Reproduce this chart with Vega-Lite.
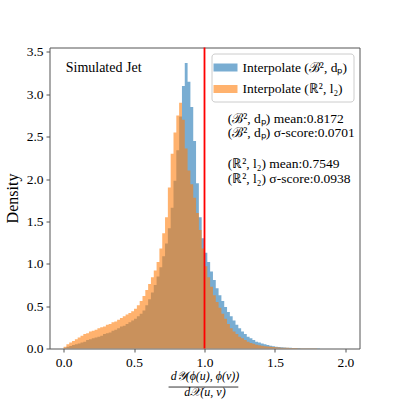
{
  "$schema": "https://vega.github.io/schema/vega-lite/v6.json",
  "width": 310,
  "height": 301,
  "autosize": {"type": "none"},
  "padding": {"left": 49.5, "top": 47.5, "right": 39.5, "bottom": 50.5},
  "config": {
    "font": "Liberation Serif",
    "view": {"stroke": "#555", "strokeWidth": 1},
    "axis": {"domain": false, "grid": false, "tickColor": "#555", "tickSize": 3.5, "labelFontSize": 13.5, "labelColor": "#000", "titleFontWeight": "normal", "titleColor": "#000", "labelFont": "Liberation Serif", "titleFont": "Liberation Serif"},
    "legend": {"fillColor": "rgba(255,255,255,0.8)", "strokeColor": "#cccccc", "cornerRadius": 3, "padding": 6, "symbolType": "M-1.5,-0.5H1.5V0.5H-1.5Z", "symbolSize": 256, "symbolOpacity": 0.6, "symbolStrokeWidth": 0, "labelFontSize": 13.5, "labelFont": "Liberation Serif", "labelColor": "#000", "labelOffset": 9, "rowPadding": 6.5, "labelLimit": 300}
  },
  "data": {"values": [
    {"x":0.00,"b":0.01,"o":0.02},{"x":0.02,"b":0.02,"o":0.05},{"x":0.04,"b":0.03,"o":0.07},{"x":0.06,"b":0.04,"o":0.09},
    {"x":0.08,"b":0.05,"o":0.11},{"x":0.10,"b":0.06,"o":0.13},{"x":0.12,"b":0.07,"o":0.15},{"x":0.14,"b":0.08,"o":0.17},
    {"x":0.16,"b":0.10,"o":0.18},{"x":0.18,"b":0.11,"o":0.20},{"x":0.20,"b":0.12,"o":0.21},{"x":0.22,"b":0.13,"o":0.22},
    {"x":0.24,"b":0.14,"o":0.24},{"x":0.26,"b":0.15,"o":0.25},{"x":0.28,"b":0.17,"o":0.26},{"x":0.30,"b":0.18,"o":0.28},
    {"x":0.32,"b":0.19,"o":0.29},{"x":0.34,"b":0.21,"o":0.31},{"x":0.36,"b":0.22,"o":0.32},{"x":0.38,"b":0.24,"o":0.34},
    {"x":0.40,"b":0.26,"o":0.36},{"x":0.42,"b":0.27,"o":0.38},{"x":0.44,"b":0.29,"o":0.40},{"x":0.46,"b":0.31,"o":0.42},
    {"x":0.48,"b":0.33,"o":0.44},{"x":0.50,"b":0.35,"o":0.47},{"x":0.52,"b":0.38,"o":0.51},{"x":0.54,"b":0.41,"o":0.56},
    {"x":0.56,"b":0.45,"o":0.62},{"x":0.58,"b":0.51,"o":0.69},{"x":0.60,"b":0.58,"o":0.76},{"x":0.62,"b":0.66,"o":0.84},
    {"x":0.64,"b":0.75,"o":0.92},{"x":0.66,"b":0.85,"o":1.02},{"x":0.68,"b":0.96,"o":1.18},{"x":0.70,"b":1.09,"o":1.36},
    {"x":0.72,"b":1.24,"o":1.55},{"x":0.74,"b":1.42,"o":1.90},{"x":0.76,"b":1.66,"o":2.30},{"x":0.78,"b":1.98,"o":2.55},
    {"x":0.80,"b":2.34,"o":2.75},{"x":0.82,"b":2.74,"o":2.90},{"x":0.84,"b":3.10,"o":2.70},{"x":0.86,"b":3.37,"o":2.36},
    {"x":0.88,"b":3.15,"o":2.10},{"x":0.90,"b":2.85,"o":1.94},{"x":0.92,"b":2.45,"o":1.78},{"x":0.94,"b":1.95,"o":1.60},
    {"x":0.96,"b":1.55,"o":1.40},{"x":0.98,"b":1.30,"o":1.18},{"x":1.00,"b":1.13,"o":0.97},{"x":1.02,"b":1.02,"o":0.84},
    {"x":1.04,"b":0.91,"o":0.73},{"x":1.06,"b":0.81,"o":0.63},{"x":1.08,"b":0.71,"o":0.55},{"x":1.10,"b":0.63,"o":0.48},
    {"x":1.12,"b":0.56,"o":0.41},{"x":1.14,"b":0.49,"o":0.35},{"x":1.16,"b":0.43,"o":0.29},{"x":1.18,"b":0.38,"o":0.24},
    {"x":1.20,"b":0.33,"o":0.20},{"x":1.22,"b":0.28,"o":0.17},{"x":1.24,"b":0.24,"o":0.14},{"x":1.26,"b":0.20,"o":0.12},
    {"x":1.28,"b":0.17,"o":0.10},{"x":1.30,"b":0.14,"o":0.08},{"x":1.32,"b":0.12,"o":0.065},{"x":1.34,"b":0.10,"o":0.055},
    {"x":1.36,"b":0.08,"o":0.045},{"x":1.38,"b":0.07,"o":0.038},{"x":1.40,"b":0.06,"o":0.032},{"x":1.42,"b":0.05,"o":0.028},
    {"x":1.44,"b":0.04,"o":0.024},{"x":1.46,"b":0.033,"o":0.02},{"x":1.48,"b":0.027,"o":0.017},{"x":1.50,"b":0.022,"o":0.014},
    {"x":1.52,"b":0.018,"o":0.012},{"x":1.54,"b":0.015,"o":0.010},{"x":1.56,"b":0.012,"o":0.009},{"x":1.58,"b":0.010,"o":0.008},
    {"x":1.60,"b":0.008,"o":0.007},{"x":1.62,"b":0.007,"o":0.006},{"x":1.64,"b":0.006,"o":0.005},{"x":1.66,"b":0.005,"o":0.004},
    {"x":1.68,"b":0.004,"o":0.0035},{"x":1.70,"b":0.0035,"o":0.003},{"x":1.72,"b":0.003,"o":0.0025},{"x":1.74,"b":0.0025,"o":0.002},
    {"x":1.76,"b":0.002,"o":0.002},{"x":1.78,"b":0.0018,"o":0.0015},{"x":1.80,"b":0.0015,"o":0.0012},{"x":1.82,"b":0.0012,"o":0.001},
    {"x":1.84,"b":0.001,"o":0.001},{"x":1.86,"b":0.001,"o":0.0008},{"x":1.88,"b":0.0008,"o":0.0007},{"x":1.90,"b":0.0007,"o":0.0006},
    {"x":1.92,"b":0.0006,"o":0.0005},{"x":1.94,"b":0.0005,"o":0.0004},{"x":1.96,"b":0.0004,"o":0.0003},{"x":1.98,"b":0.0003,"o":0.0003},
    {"x":2.00,"b":0.0003,"o":0.0003}
  ]},
  "layer": [
    {
      "mark": {"type": "area", "interpolate": "step-after", "opacity": 0.6},
      "encoding": {
        "x": {"field": "x", "type": "quantitative", "scale": {"domain": [-0.1, 2.1], "nice": false, "zero": false},
              "axis": {"values": [0, 0.5, 1, 1.5, 2], "format": ".1f", "labelPadding": 3.5,
                       "title": ["d𝒴(ϕ(u), ϕ(v))", "d𝒳(u, v)"], "titleFontStyle": "italic", "titleFontSize": 12, "titleLineHeight": 16, "titlePadding": 1}},
        "y": {"field": "b", "type": "quantitative", "stack": null, "scale": {"domain": [0, 3.553], "nice": false},
              "axis": {"values": [0, 0.5, 1, 1.5, 2, 2.5, 3, 3.5], "format": ".1f", "labelPadding": 3, "title": "Density", "titleFontSize": 16, "titlePadding": 6}},
        "color": {"datum": "Interpolate (ℬ², dₚ)", "type": "nominal",
                  "scale": {"domain": ["Interpolate (ℬ², dₚ)", "Interpolate (ℝ², l₂)"], "range": ["#1f77b4", "#ff7f0e"]},
                  "legend": {"title": null, "orient": "top-right", "offset": 6}}
      }
    },
    {
      "mark": {"type": "area", "interpolate": "step-after", "opacity": 0.6},
      "encoding": {
        "x": {"field": "x", "type": "quantitative"},
        "y": {"field": "o", "type": "quantitative", "stack": null},
        "color": {"datum": "Interpolate (ℝ², l₂)", "type": "nominal"}
      }
    },
    {
      "data": {"values": [{}]},
      "mark": {"type": "rule", "color": "#ff0000", "strokeWidth": 1.8},
      "encoding": {"x": {"datum": 1}}
    },
    {
      "data": {"values": [{}]},
      "mark": {"type": "text", "align": "left", "baseline": "middle", "fontSize": 14, "color": "#000"},
      "encoding": {"x": {"datum": 0.015}, "y": {"datum": 3.31}, "text": {"value": "Simulated Jet"}}
    },
    {
      "data": {"values": [{}]},
      "mark": {"type": "text", "align": "left", "baseline": "top", "fontSize": 13.5, "lineHeight": 14.3, "color": "#000",
               "text": ["(ℬ², dₚ) mean:0.8172", "(ℬ², dₚ) σ-score:0.0701"]},
      "encoding": {"x": {"datum": 1.165}, "y": {"datum": 2.79}}
    },
    {
      "data": {"values": [{}]},
      "mark": {"type": "text", "align": "left", "baseline": "top", "fontSize": 13.5, "lineHeight": 14.3, "color": "#000",
               "text": ["(ℝ², l₂) mean:0.7549", "(ℝ², l₂) σ-score:0.0938"]},
      "encoding": {"x": {"datum": 1.165}, "y": {"datum": 2.256}}
    },
    {
      "data": {"values": [{}]},
      "mark": {"type": "rule", "color": "#000", "strokeWidth": 0.8},
      "encoding": {"x": {"datum": 0.745}, "x2": {"datum": 1.24}, "y": {"datum": -0.455}}
    }
  ]
}
